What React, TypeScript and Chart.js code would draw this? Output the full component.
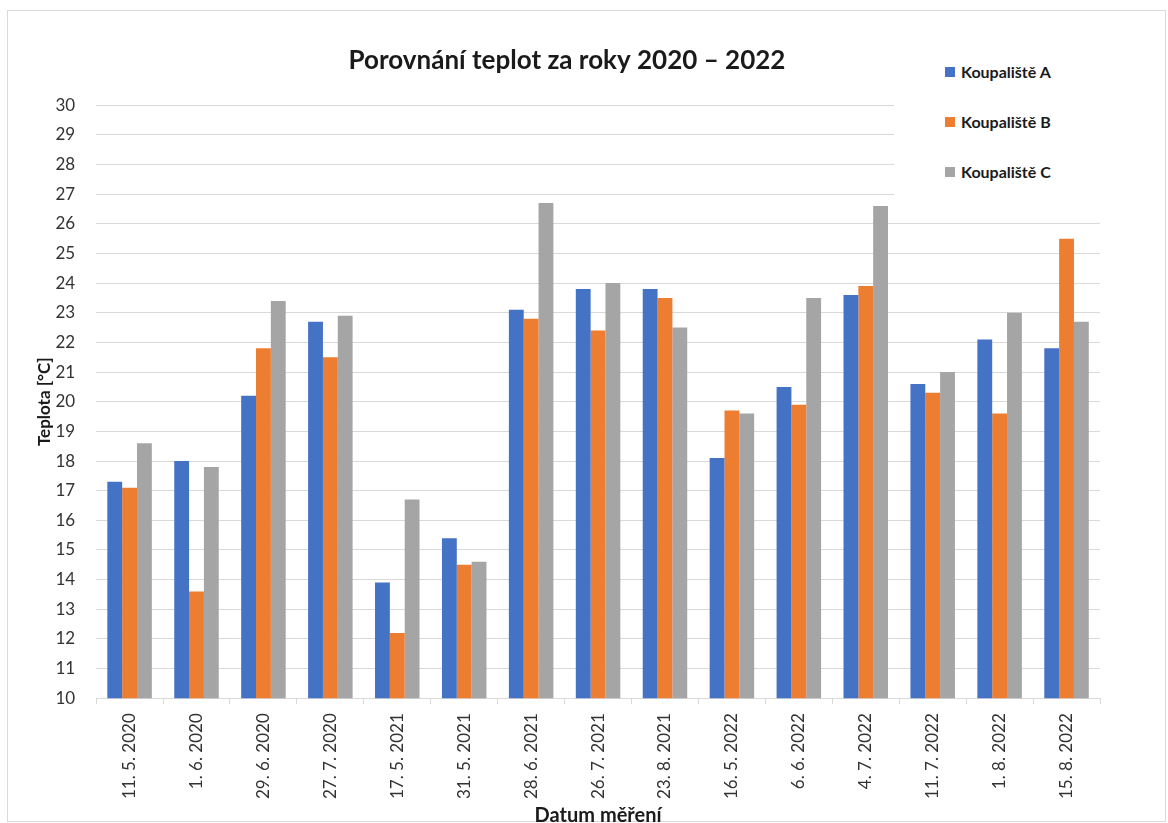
import React, { useEffect, useRef } from 'react';
import Chart from 'chart.js/auto';

const dates = [
    '11. 5. 2020', '1. 6. 2020', '29. 6. 2020', '27. 7. 2020', '17. 5. 2021',
    '31. 5. 2021', '28. 6. 2021', '26. 7. 2021', '23. 8. 2021', '16. 5. 2022',
    '6. 6. 2022', '4. 7. 2022', '11. 7. 2022', '1. 8. 2022', '15. 8. 2022',
];

const poolA = [17.3, 18.0, 20.2, 22.7, 13.9, 15.4, 23.1, 23.8, 23.8, 18.1, 20.5, 23.6, 20.6, 22.1, 21.8];
const poolB = [17.1, 13.6, 21.8, 21.5, 12.2, 14.5, 22.8, 22.4, 23.5, 19.7, 19.9, 23.9, 20.3, 19.6, 25.5];
const poolC = [18.6, 17.8, 23.4, 22.9, 16.7, 14.6, 26.7, 24.0, 22.5, 19.6, 23.5, 26.6, 21.0, 23.0, 22.7];

const seriesNames = ['Koupaliště A', 'Koupaliště B', 'Koupaliště C'];
const seriesColors = ['#4472C4', '#ED7D31', '#A5A5A5'];

const FONT = 'Lato, "Open Sans", sans-serif';

const TemperatureChart: React.FC = () => {
    const chartRef = useRef<HTMLCanvasElement | null>(null);

    useEffect(() => {
        document.body.style.margin = '0';
        document.documentElement.style.overflow = 'hidden';
        const ctx = chartRef.current?.getContext('2d');

        if (!ctx) {
            return;
        }

        const myChart = new Chart(ctx, {
            type: 'bar',
            data: {
                labels: dates,
                datasets: [poolA, poolB, poolC].map((values, i) => ({
                    label: seriesNames[i],
                    data: values,
                    backgroundColor: seriesColors[i],
                    borderWidth: 0,
                    categoryPercentage: 0.665,
                    barPercentage: 1,
                })),
            },
            options: {
                animation: false,
                responsive: true,
                maintainAspectRatio: false,
                layout: {
                    padding: { left: 26, right: 30, top: 0, bottom: 0 },
                },
                plugins: {
                    legend: {
                        display: false,
                    },
                    tooltip: {
                        enabled: false,
                    },
                    title: {
                        display: true,
                        text: 'Porovnání teplot za roky 2020 – 2022',
                        color: '#1a1a1a',
                        font: { family: FONT, size: 26, weight: 'bold' },
                        padding: { top: 34, bottom: 29 },
                    },
                },
                scales: {
                    x: {
                        grid: {
                            offset: true,
                            drawOnChartArea: false,
                            tickLength: 6,
                            color: '#d9d9d9',
                        },
                        border: { color: '#d9d9d9' },
                        ticks: {
                            minRotation: 90,
                            maxRotation: 90,
                            padding: 9,
                            color: '#333333',
                            font: { family: FONT, size: 17 },
                        },
                        title: {
                            display: true,
                            text: 'Datum měření',
                            color: '#1a1a1a',
                            font: { family: FONT, size: 20, weight: 'bold' },
                            padding: { top: -4, bottom: 0 },
                        },
                    },
                    y: {
                        min: 10,
                        max: 30,
                        grid: {
                            color: '#d9d9d9',
                            drawTicks: false,
                        },
                        border: { display: false },
                        ticks: {
                            stepSize: 1,
                            padding: 21,
                            color: '#333333',
                            font: { family: FONT, size: 17 },
                        },
                        title: {
                            display: true,
                            text: 'Teplota [°C]',
                            color: '#1a1a1a',
                            font: { family: FONT, size: 17, weight: 'bold' },
                            padding: { top: 0, bottom: -20 },
                        },
                    },
                },
            },
        });

        return () => {
            myChart.destroy();
        };
    }, []);

    return (
        <div
            style={{
                position: 'absolute',
                left: 7,
                top: 10,
                width: 1159,
                height: 812,
                border: '1px solid #d9d9d9',
                boxSizing: 'border-box',
                background: '#fff',
            }}
        >
            <div style={{ position: 'absolute', left: 0, top: 0, width: 1122, height: 817 }}>
                <canvas ref={chartRef} />
            </div>
            <div
                style={{
                    position: 'absolute',
                    left: 886,
                    top: 38,
                    width: 210,
                    height: 170,
                    background: '#fff',
                    fontFamily: FONT,
                    fontWeight: 'bold',
                    fontSize: 16,
                    color: '#1a1a1a',
                }}
            >
                {seriesNames.map((name, i) => (
                    <div
                        key={name}
                        style={{
                            position: 'absolute',
                            left: 51,
                            top: 13 + i * 50,
                            display: 'flex',
                            alignItems: 'center',
                            whiteSpace: 'nowrap',
                        }}
                    >
                        <span
                            style={{
                                display: 'inline-block',
                                width: 10,
                                height: 10,
                                background: seriesColors[i],
                                marginRight: 6,
                            }}
                        />
                        {name}
                    </div>
                ))}
            </div>
        </div>
    );
};

export default function App() {
    return <TemperatureChart />;
}
